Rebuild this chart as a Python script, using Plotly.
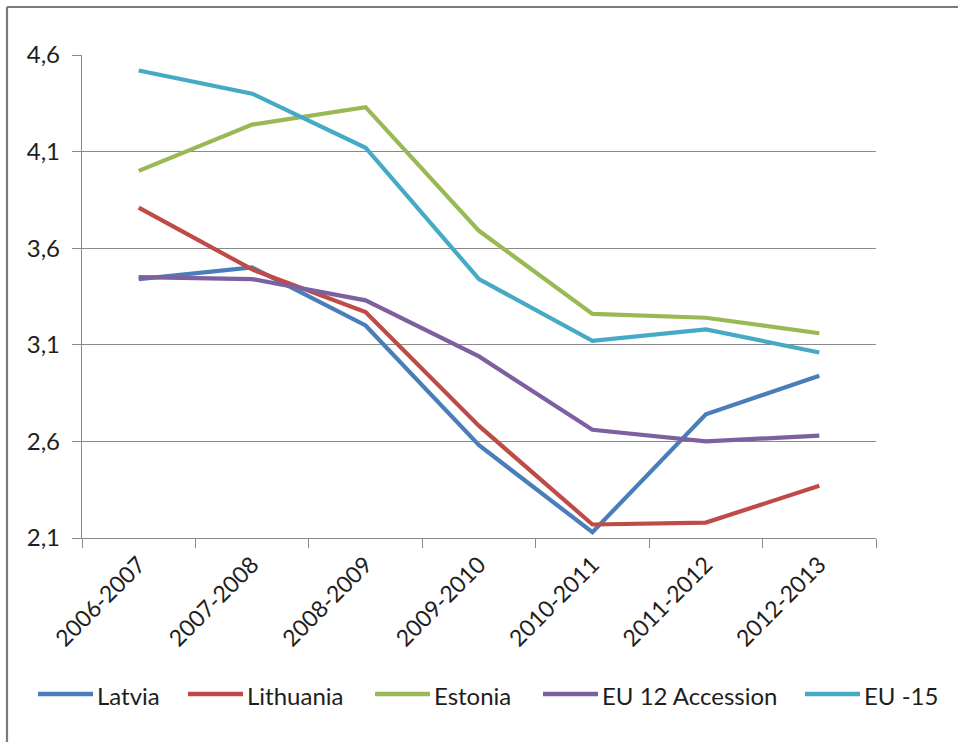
import plotly.graph_objects as go

# Academic years on the category axis
periods = ["2006-2007", "2007-2008", "2008-2009", "2009-2010",
           "2010-2011", "2011-2012", "2012-2013"]

# Index values per region
latvia = [3.44, 3.50, 3.20, 2.58, 2.13, 2.74, 2.94]
lithuania = [3.81, 3.49, 3.27, 2.68, 2.17, 2.18, 2.37]
estonia = [4.00, 4.24, 4.33, 3.69, 3.26, 3.24, 3.16]
eu12_accession = [3.45, 3.44, 3.33, 3.04, 2.66, 2.60, 2.63]
eu15 = [4.52, 4.40, 4.12, 3.44, 3.12, 3.18, 3.06]

series_names = ["Latvia", "Lithuania", "Estonia", "EU 12 Accession", "EU -15"]
series_values = [latvia, lithuania, estonia, eu12_accession, eu15]
series_colors = ["#4A7EBB", "#BE4B48", "#98B954", "#7D60A0", "#46AAC5"]

# Value axis ticks (decimal comma)
y_ticks = [2.1, 2.6, 3.1, 3.6, 4.1, 4.6]
y_tick_labels = ["2,1", "2,6", "3,1", "3,6", "4,1", "4,6"]

W, H = 958, 742
ML, MR, MT, MB = 82, 82, 55, 204
PW, PH = W - ML - MR, H - MT - MB
FONT = "Lato"
GRID = "#8a8a8a"
TEXT = "#1e1e1e"


def px_x(px):
    return (px - ML) / PW


def px_y(py):
    return (H - MB - py) / PH


fig = go.Figure()
for name, vals, col in zip(series_names, series_values, series_colors):
    fig.add_trace(go.Scatter(
        x=periods, y=vals, name=name, mode="lines",
        line=dict(color=col, width=4.2),
        showlegend=False,
    ))

shapes = []
annotations = []

# Outer frame (top and left edges)
shapes.append(dict(type="line", xref="paper", yref="paper",
                   x0=px_x(7), x1=px_x(W + 5), y0=px_y(7), y1=px_y(7),
                   line=dict(color="#7a7a7a", width=2.2)))
shapes.append(dict(type="line", xref="paper", yref="paper",
                   x0=px_x(7), x1=px_x(7), y0=px_y(7), y1=px_y(H + 5),
                   line=dict(color="#7a7a7a", width=2.2)))

# Legend row drawn under the chart
legend_line_x = [38, 188, 375, 543, 805]
legend_line_len = 55
legend_y = 694
for name, col, lx in zip(series_names, series_colors, legend_line_x):
    shapes.append(dict(type="line", xref="paper", yref="paper",
                       x0=px_x(lx), x1=px_x(lx + legend_line_len),
                       y0=px_y(legend_y), y1=px_y(legend_y),
                       line=dict(color=col, width=4.6)))
    annotations.append(dict(text=name, xref="paper", yref="paper",
                            x=px_x(lx + legend_line_len + 2), y=px_y(legend_y + 1),
                            xanchor="left", yanchor="middle", showarrow=False,
                            font=dict(family=FONT, size=24, color=TEXT)))

fig.update_layout(
    width=W, height=H,
    margin=dict(l=ML, r=MR, t=MT, b=MB),
    paper_bgcolor="white", plot_bgcolor="white",
    font=dict(family=FONT, size=22, color=TEXT),
    shapes=shapes, annotations=annotations,
    showlegend=False,
)
fig.update_xaxes(
    type="category", range=[-0.5, 6.5],
    showline=True, linecolor=GRID, linewidth=1.3,
    ticks="outside", tickson="boundaries", ticklen=9, tickcolor=GRID,
    tickangle=-45, showgrid=False, ticklabelstandoff=3,
    tickfont=dict(family=FONT, size=23, color=TEXT),
)
fig.update_yaxes(
    range=[2.1, 4.6], tickvals=y_ticks, ticktext=y_tick_labels,
    showline=True, linecolor=GRID, linewidth=1.3,
    ticks="outside", ticklen=9, tickcolor=GRID, ticklabelstandoff=7,
    showgrid=True, gridcolor=GRID, gridwidth=1.3, zeroline=False,
    tickfont=dict(family=FONT, size=24, color=TEXT),
)

fig.write_html("out.html")
